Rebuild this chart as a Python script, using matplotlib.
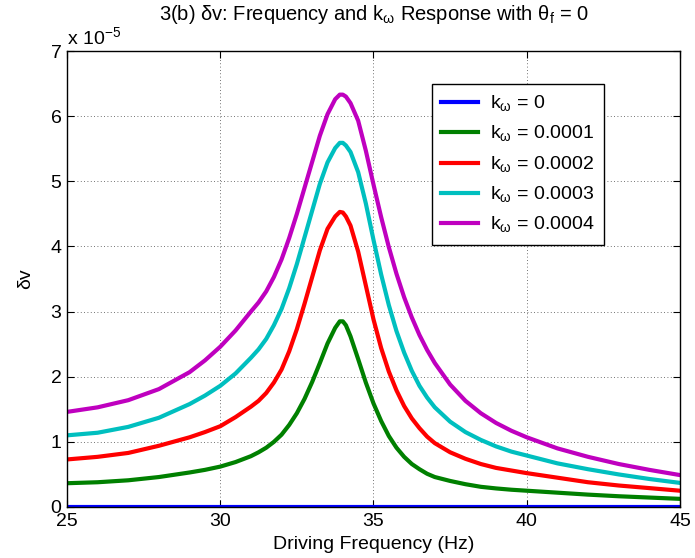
import matplotlib
matplotlib.use("Agg")
import matplotlib.pyplot as plt

plt.rcParams['font.family'] = ['Liberation Sans', 'DejaVu Sans']

# driving frequency (Hz) and dv response (units of 1e-5)
freq = [25, 26, 27, 28, 29, 29.5, 30, 30.5,
        31, 31.25, 31.5, 31.75, 32, 32.25, 32.5, 32.75, 33, 33.25, 33.5, 33.75,
        33.9, 34, 34.1,
        34.25, 34.5, 34.75, 35, 35.25, 35.5, 35.75, 36, 36.25, 36.5, 36.75, 37,
        37.5, 38, 38.5, 39, 39.5, 40, 41, 42, 43, 44, 45]
dv_k0 = [0.0] * len(freq)
dv_k1 = [0.365, 0.38, 0.41, 0.46, 0.53, 0.57, 0.62, 0.69,
         0.78, 0.84, 0.91, 1.00, 1.11, 1.26, 1.44, 1.66, 1.92, 2.21, 2.51, 2.75,
         2.85, 2.85, 2.79,
         2.62, 2.27, 1.91, 1.59, 1.32, 1.09, 0.91, 0.77, 0.66, 0.58, 0.51, 0.46,
         0.40, 0.35, 0.31, 0.285, 0.265, 0.25, 0.22, 0.19, 0.165, 0.145, 0.125]
dv_k2 = [0.73, 0.77, 0.83, 0.94, 1.07, 1.15, 1.24, 1.38,
         1.54, 1.63, 1.75, 1.91, 2.11, 2.39, 2.73, 3.12, 3.53, 3.94, 4.27, 4.46,
         4.53, 4.52, 4.46,
         4.32, 3.92, 3.40, 2.88, 2.44, 2.08, 1.79, 1.55, 1.36, 1.21, 1.08, 0.98,
         0.84, 0.74, 0.66, 0.60, 0.56, 0.52, 0.45, 0.38, 0.33, 0.29, 0.25]
dv_k3 = [1.10, 1.14, 1.23, 1.37, 1.58, 1.71, 1.86, 2.05,
         2.29, 2.42, 2.58, 2.79, 3.04, 3.36, 3.73, 4.14, 4.55, 4.96, 5.29, 5.51,
         5.59, 5.59, 5.55,
         5.45, 5.14, 4.66, 4.10, 3.57, 3.10, 2.70, 2.37, 2.09, 1.86, 1.68, 1.53,
         1.31, 1.15, 1.03, 0.93, 0.85, 0.79, 0.67, 0.58, 0.50, 0.43, 0.37]
dv_k4 = [1.46, 1.53, 1.64, 1.81, 2.07, 2.25, 2.46, 2.71,
         3.00, 3.14, 3.31, 3.53, 3.80, 4.13, 4.50, 4.90, 5.30, 5.70, 6.03, 6.26,
         6.33, 6.33, 6.30,
         6.20, 5.93, 5.47, 4.95, 4.45, 3.99, 3.58, 3.22, 2.91, 2.64, 2.41, 2.21,
         1.88, 1.63, 1.44, 1.29, 1.17, 1.07, 0.90, 0.77, 0.66, 0.57, 0.49]

labels = [r'k$_{\mathregular{ω}}$ = 0', r'k$_{\mathregular{ω}}$ = 0.0001', r'k$_{\mathregular{ω}}$ = 0.0002',
          r'k$_{\mathregular{ω}}$ = 0.0003', r'k$_{\mathregular{ω}}$ = 0.0004']
colors = ['#0000ff', '#008000', '#ff0000', '#00bfbf', '#bf00bf']
series = [dv_k0, dv_k1, dv_k2, dv_k3, dv_k4]

fig = plt.figure(figsize=(6.95, 5.58), dpi=100)
ax = fig.add_axes([0.0964, 0.0914, 0.8820, 0.8172])

for ys, c, lab in zip(series, colors, labels):
    ax.plot(freq, ys, color=c, linewidth=3.0, label=lab, solid_joinstyle='round')

ax.set_xlim(25, 45)
ax.set_ylim(0, 7)
ax.set_xticks([25, 30, 35, 40, 45])
ax.set_yticks(range(8))
ax.tick_params(direction='in', labelsize=14, length=5, width=0.8, top=True, right=True, pad=4)
ax.grid(True, linestyle=(0, (1, 3)), color='#444444', linewidth=0.6)
for s in ax.spines.values():
    s.set_linewidth(1.0)

ax.set_xlabel('Driving Frequency (Hz)', fontsize=14, labelpad=5)
ax.set_ylabel('δv', fontsize=14, labelpad=12)
ax.set_title(r'3(b) δv: Frequency and k$_{\mathregular{ω}}$ Response with θ$_{\mathregular{f}}$ = 0',
             fontsize=14.5, pad=22)
ax.text(0.0, 1.005, r'x 10$^{\mathregular{-5}}$', transform=ax.transAxes, fontsize=14,
        ha='left', va='bottom')

leg = ax.legend(loc='upper left', bbox_to_anchor=(0.595, 0.928), fontsize=14, fancybox=False,
                framealpha=1, edgecolor='black', handlelength=1.9, borderpad=0.5,
                labelspacing=0.52, handletextpad=0.6, borderaxespad=0)
leg.get_frame().set_linewidth(1.0)

fig.savefig('out.png', dpi=100)
